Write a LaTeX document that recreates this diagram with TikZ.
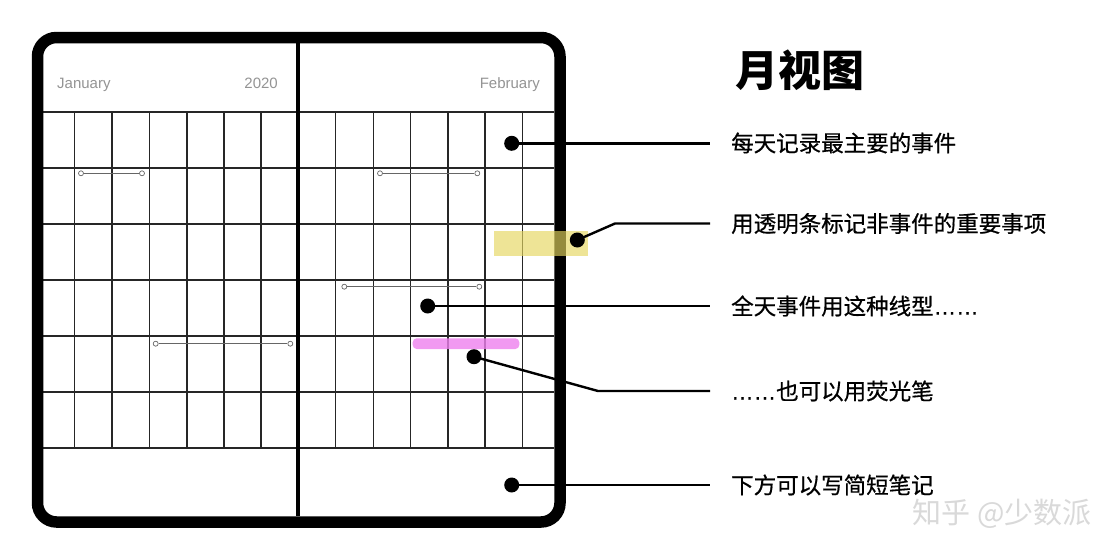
\documentclass[tikz,border=0pt]{standalone}
\usepackage{fontspec}
\setmainfont{Liberation Sans}
\newfontfamily\latin{Liberation Sans}
\newfontfamily\cjk{Noto Sans CJK SC}
\newfontfamily\cjkmed[FakeBold=0.6]{Noto Sans CJK SC}
\newfontfamily\latinmed[FakeBold=0.6]{Liberation Sans}
\definecolor{hlyellow}{RGB}{230,215,95}
\definecolor{hlpink}{RGB}{238,128,238}
\begin{document}
\begin{tikzpicture}[x=1pt,y=-1pt,
  gridline/.style={draw=black!85, line width=1.2pt},
  evline/.style={draw=black!60, line width=0.8pt},
  evend/.style={circle, draw=black!60, fill=white, line width=0.7pt, inner sep=0pt, minimum size=5pt},
  dotnode/.style={circle, fill=black, inner sep=0pt, minimum size=15pt},
  conn/.style={draw=black, line width=2.4pt},
  labeltext/.style={anchor=west, inner sep=0pt, font=\cjkmed\fontsize{22.5}{27}\selectfont},
  monthtext/.style={inner sep=0pt, text=black!42, font=\latin\fontsize{15}{18}\selectfont}
]
\useasboundingbox (0,0) rectangle (1120,560);
\fill[white] (0,0) rectangle (1120,560);

% grid
\foreach \yy in {112,168,224,280,336,392,448}
  \draw[gridline] (43,\yy) -- (554,\yy);
\foreach \xx in {74.5,112,149.7,187,224,261,335.7,373.3,410.7,448,485,522.3}
  \draw[gridline] (\xx,112) -- (\xx,448);

% header texts
\node[monthtext, anchor=base west] (jan) at (57,88.5) {January};
\node[monthtext, anchor=base east] (yr) at (278,88.5) {2020};
\node[monthtext, anchor=base east] (feb) at (540,88.5) {February};

% all-day event lines
\node[evend] (e1a) at (81,173.3) {};
\node[evend] (e1b) at (142,173.3) {};
\draw[evline] (e1a) -- (e1b);
\node[evend] (e2a) at (380,173.3) {};
\node[evend] (e2b) at (477.3,173.3) {};
\draw[evline] (e2a) -- (e2b);
\node[evend] (e3a) at (344.3,286.7) {};
\node[evend] (e3b) at (479.3,286.7) {};
\draw[evline] (e3a) -- (e3b);
\node[evend] (e4a) at (155.7,343.7) {};
\node[evend] (e4b) at (290.3,343.7) {};
\draw[evline] (e4a) -- (e4b);

% frame
\draw[line width=11.5pt, rounded corners=19pt] (37.5,37.5) rectangle (560,522);
\draw[line width=3.5pt] (298,43) -- (298,516);

% highlighters
\fill[hlpink, opacity=0.8, rounded corners=4pt] (412.7,338.3) rectangle (519.3,349);
\fill[hlyellow, opacity=0.65] (494,230.7) rectangle (588,255.7);

% title
\node[anchor=west, inner sep=0pt, font=\cjk\bfseries\fontsize{43}{50}\selectfont] (title) at (735,70) {月视图};

% labels
\node[labeltext] (l1) at (731,143) {每天记录最主要的事件};
\node[labeltext] (l2) at (731,223.5) {用透明条标记非事件的重要事项};
\node[labeltext] (l3) at (731,306) {全天事件用这种线型{\latinmed ……}};
\node[labeltext] (l4) at (731,391) {{\latinmed ……}也可以用荧光笔};
\node[labeltext] (l5) at (731,485) {下方可以写简短笔记};

% dots and connectors
\node[dotnode] (d1) at (511.7,143.3) {};
\coordinate (c1) at (710,143.3);
\draw[conn] (d1.center) -- (c1);

\node[dotnode] (d2) at (577.3,240) {};
\coordinate (b2) at (615,223.5);
\coordinate (c2) at (710,223.5);
\draw[conn] (d2.center) -- (b2) -- (c2);

\node[dotnode] (d3) at (427.7,306) {};
\coordinate (c3) at (710,306);
\draw[conn] (d3.center) -- (c3);

\node[dotnode] (d4) at (474,356.7) {};
\coordinate (b4) at (598,391);
\coordinate (c4) at (710,391);
\draw[conn] (d4.center) -- (b4) -- (c4);

\node[dotnode] (d5) at (511.7,485) {};
\coordinate (c5) at (710,485);
\draw[conn] (d5.center) -- (c5);

% watermark
\node[anchor=east, inner sep=0pt, text=black!15, font=\cjk\fontsize{29}{34}\selectfont] (wm) at (1092,514) {知乎 @少数派};
\end{tikzpicture}
\end{document}
